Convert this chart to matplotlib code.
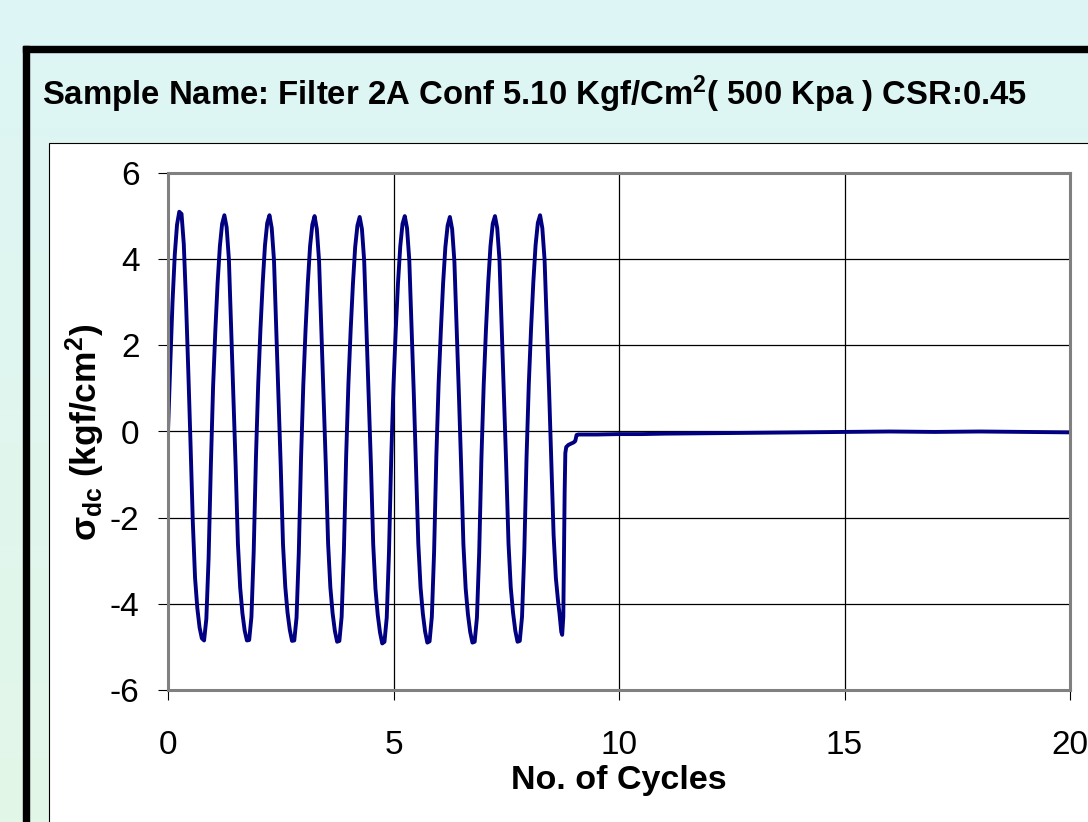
import numpy as np
import matplotlib
matplotlib.use("Agg")
import matplotlib.pyplot as plt
from matplotlib.patches import Rectangle
from matplotlib.colors import LinearSegmentedColormap

plt.rcParams['font.family'] = ['Liberation Sans', 'DejaVu Sans']
plt.rcParams['mathtext.fontset'] = 'custom'
plt.rcParams['mathtext.rm'] = 'Liberation Sans'
plt.rcParams['mathtext.bf'] = 'Liberation Sans:bold'
plt.rcParams['mathtext.it'] = 'Liberation Sans:italic'
plt.rcParams['axes.unicode_minus'] = False

# phase of each reading inside one loading cycle
phase = [0.00, 0.05, 0.10, 0.15, 0.20, 0.25, 0.30, 0.35, 0.40, 0.45,
         0.50, 0.55, 0.60, 0.65, 0.70, 0.75, 0.80, 0.85, 0.90, 0.95]

# deviator stress (kgf/cm2) read for each full cycle
cycle_stress = [
    [0.00, 1.55, 3.00, 4.10, 4.80, 5.10, 5.05, 4.35, 3.00, 1.40,
     -0.30, -2.10, -3.40, -4.10, -4.55, -4.80, -4.85, -4.35, -2.95, -0.80],
    [1.05, 2.35, 3.45, 4.30, 4.82, 5.02, 4.74, 4.00, 2.42, 0.90,
     -0.80, -2.60, -3.62, -4.22, -4.62, -4.85, -4.84, -4.30, -2.80, -0.60],
    [1.10, 2.38, 3.45, 4.32, 4.84, 5.02, 4.72, 3.98, 2.40, 0.88,
     -0.82, -2.62, -3.60, -4.20, -4.60, -4.86, -4.85, -4.32, -2.82, -0.62],
    [1.08, 2.36, 3.44, 4.30, 4.80, 5.00, 4.70, 3.95, 2.38, 0.86,
     -0.80, -2.60, -3.62, -4.22, -4.63, -4.88, -4.86, -4.30, -2.78, -0.58],
    [1.10, 2.35, 3.42, 4.28, 4.78, 4.98, 4.70, 3.96, 2.40, 0.90,
     -0.78, -2.62, -3.65, -4.25, -4.66, -4.92, -4.88, -4.32, -2.80, -0.60],
    [1.08, 2.36, 3.45, 4.30, 4.82, 5.00, 4.72, 3.98, 2.42, 0.88,
     -0.82, -2.60, -3.62, -4.22, -4.64, -4.90, -4.87, -4.30, -2.80, -0.58],
    [1.10, 2.34, 3.44, 4.28, 4.78, 4.98, 4.70, 3.95, 2.40, 0.86,
     -0.80, -2.62, -3.64, -4.24, -4.65, -4.90, -4.88, -4.32, -2.82, -0.60],
    [1.08, 2.36, 3.45, 4.30, 4.82, 5.00, 4.72, 3.98, 2.40, 0.88,
     -0.82, -2.60, -3.62, -4.20, -4.62, -4.88, -4.86, -4.30, -2.80, -0.60],
]

# last cycle up to failure, then residual readings
fail_cycles = [8.00, 8.05, 8.10, 8.15, 8.20, 8.25, 8.30, 8.35, 8.40, 8.45,
               8.50, 8.55, 8.60, 8.65, 8.68, 8.72, 8.74, 8.765, 8.78, 8.795,
               8.81, 8.83, 8.88, 8.94, 9.00, 9.03, 9.06, 9.10]
fail_stress = [1.10, 2.38, 3.46, 4.32, 4.84, 5.02, 4.72, 3.98, 2.45, 0.95,
               -0.70, -2.40, -3.40, -3.95, -4.22, -4.65, -4.72, -4.30, -2.90, -1.40,
               -0.50, -0.36, -0.31, -0.28, -0.25, -0.22, -0.08, -0.07]

tail_cycles = [9.5, 10, 10.5, 11, 12, 13, 14, 15, 16, 17, 18, 19, 20]
tail_stress = [-0.07, -0.06, -0.06, -0.05, -0.04, -0.03, -0.02, -0.01,
               0.00, -0.01, 0.00, -0.01, -0.02]

x_ticks = [0, 5, 10, 15, 20]
y_ticks = [-6, -4, -2, 0, 2, 4, 6]

title = r'Sample Name: Filter 2A Conf 5.10 Kgf/Cm$^{\mathbf{2}}$( 500 Kpa ) CSR:0.45'

# assemble the record
cycles = []
stress = []
for k, vals in enumerate(cycle_stress):
    cycles += [k + p for p in phase]
    stress += vals
cycles += fail_cycles + tail_cycles
stress += fail_stress + tail_stress

W, H = 1088, 822
fig = plt.figure(figsize=(W / 100, H / 100), dpi=100)

# slide background, frame and chart area in pixel coordinates
bg = fig.add_axes([0, 0, 1, 1])
cmap = LinearSegmentedColormap.from_list('bg', ['#ddf5f5', '#e3f7e8'])
bg.imshow(np.linspace(0, 1, 256)[:, None], extent=[0, W, H, 0],
          cmap=cmap, aspect='auto')
bg.set_xlim(0, W)
bg.set_ylim(H, 0)
bg.axis('off')
bg.add_patch(Rectangle((23, 46), 6, 900, color='black'))
bg.add_patch(Rectangle((23, 46), 1200, 6, color='black'))
bg.add_patch(Rectangle((49, 143), 1200, 800, facecolor='white',
                       edgecolor='black', lw=0.8))
bg.text(42, 105, title, fontsize=23.7, fontweight='bold', va='baseline')
bg.text(619, 789, 'No. of Cycles', fontsize=24.5, fontweight='bold',
        ha='center', va='baseline')
bg.text(85, 432, r'$\mathbf{σ}_{\mathbf{dc}}$ (kgf/cm$^{\mathbf{2}}$)',
        fontsize=25.5, fontweight='bold', rotation=90, ha='center', va='center')

ax = fig.add_axes([168 / W, (H - 690) / H, 902 / W, 517 / H])
ax.plot(cycles, stress, color='#000080', lw=2.8)
ax.set_xlim(0, 20)
ax.set_ylim(-6, 6)
ax.set_xticks(x_ticks)
ax.set_yticks(y_ticks)
ax.grid(True, color='black', lw=0.9)
ax.set_axisbelow(True)
for s in ax.spines.values():
    s.set_color('#808080')
    s.set_linewidth(2.2)
ax.tick_params(axis='both', direction='out', length=7.5, width=0.8,
               color='black', labelsize=24)
ax.tick_params(axis='x', pad=21)
ax.tick_params(axis='y', pad=13)

fig.savefig('out.png', dpi=100)
